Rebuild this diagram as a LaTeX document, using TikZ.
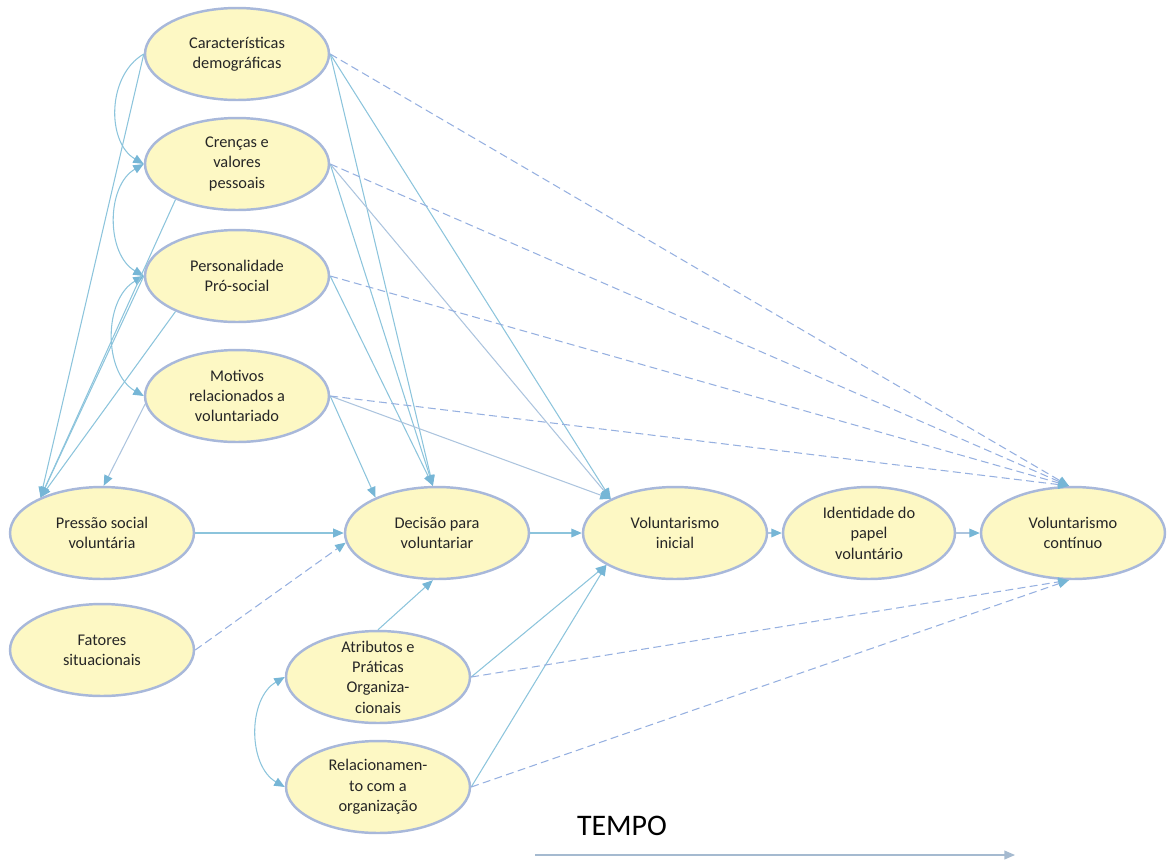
\documentclass[tikz,border=0pt]{standalone}
\usepackage{fontspec}
\setmainfont{Carlito}
\usepackage{xcolor}
\usetikzlibrary{shapes.geometric, arrows.meta}

\definecolor{ellfill}{RGB}{253,248,196}
\definecolor{elldraw}{RGB}{168,184,218}
\definecolor{linkblue}{RGB}{140,196,220}
\definecolor{paleblue}{RGB}{172,196,222}
\definecolor{dashblue}{RGB}{150,176,224}
\definecolor{tipblue}{RGB}{118,182,214}

\begin{document}
\begin{tikzpicture}[
    x=0.02cm, y=-0.02cm,
    font=\fontsize{9.3}{11.6}\selectfont,
    >={Triangle[length=6pt, width=5pt, color=tipblue]},
    ell/.style={ellipse, draw=elldraw, fill=ellfill, line width=1.4pt,
        minimum width=3.68cm, minimum height=1.84cm,
        inner xsep=0pt, inner ysep=-5pt, align=center, text=black!85},
    link/.style={draw=#1, line width=0.6pt, ->},
    link/.default=linkblue,
    dlink/.style={draw=dashblue, line width=0.6pt, ->, dash pattern=on 4.5pt off 2.5pt},
    timeline/.style={draw=paleblue!85!gray, line width=0.7pt,
        -{Triangle[length=6pt, width=5pt, color=paleblue!85!gray]}}
]

    \useasboundingbox (0,0) rectangle (1167,860);

    % Left column
    \node[ell] (car) at (237,54)  {Características\\demográficas};
    \node[ell] (cre) at (237,164) {Crenças e\\valores\\pessoais};
    \node[ell] (per) at (237,276) {Personalidade\\Pró-social};
    \node[ell] (mot) at (237,396) {Motivos\\relacionados a\\voluntariado};

    % Middle row
    \node[ell] (pre) at (102,533) {Pressão social\\voluntária};
    \node[ell] (fat) at (102,650) {Fatores\\situacionais};
    \node[ell] (dec) at (437,533) {Decisão para\\voluntariar};
    \node[ell] (vin) at (675,533) {Voluntarismo\\inicial};
    \node[ell, minimum width=3.44cm] (ide) at (869,533) {Identidade do\\papel\\voluntário};
    \node[ell] (vco) at (1073,533) {Voluntarismo\\contínuo};

    % Organisation
    \node[ell] (atr) at (378,677) {Atributos e\\Práticas\\Organiza-\\cionais};
    \node[ell] (rel) at (378,787) {Relacionamen-\\to com a\\organização};

    % Time axis
    \node[font=\fontsize{17}{20}\selectfont] (tempo) at (622,826) {TEMPO};
    \coordinate (t0) at (535,855);
    \coordinate (t1) at (1015,855);
    \draw[timeline] (t0) -- (t1);

    % Arcs between individual factors
    \draw[link] (car.west) to[bend right=60] (cre.west);
    \draw[link, <->] (cre.west) to[bend right=60] (per.west);
    \draw[link, <->] (per.west) to[bend right=60] (mot.west);
    \draw[link, <->] (atr.west) to[bend right=60] (rel.west);

    % Into social pressure
    \draw[link] (car.west) -- (pre.150);
    \draw[link] (cre.210) -- (pre.150);
    \draw[link] (per.west) -- (pre.150);
    \draw[link] (per.210) -- (pre.150);
    \draw[link=paleblue] (mot.185) -- (pre.88);

    % Into decision
    \draw[link] (car.east) -- (dec.95);
    \draw[link] (cre.east) -- (dec.95);
    \draw[link] (per.east) -- (dec.95);
    \draw[link] (mot.east) -- (dec.150);
    \draw[link] (pre.east) -- (dec.west);
    \draw[dlink] (fat.east) -- (dec.186);
    \draw[link] (atr.north) -- (dec.265);

    % Into initial volunteering
    \draw[link] (car.east) -- (vin.152);
    \draw[link=paleblue] (cre.east) -- (vin.152);
    \draw[link=paleblue] (mot.east) -- (vin.152);
    \draw[link] (dec.east) -- (vin.west);
    \draw[link] (atr.east) -- (vin.205);
    \draw[link] (rel.east) -- (vin.205);
    \draw[link=paleblue] (vin.east) -- (ide.west);
    \draw[link=paleblue] (ide.east) -- (vco.west);

    % Dashed paths to sustained volunteering
    \draw[dlink] (car.east) -- (vco.95);
    \draw[dlink] (cre.east) -- (vco.95);
    \draw[dlink] (per.east) -- (vco.95);
    \draw[dlink] (mot.east) -- (vco.95);
    \draw[dlink] (atr.east) -- (vco.265);
    \draw[dlink] (rel.east) -- (vco.265);

\end{tikzpicture}
\end{document}
